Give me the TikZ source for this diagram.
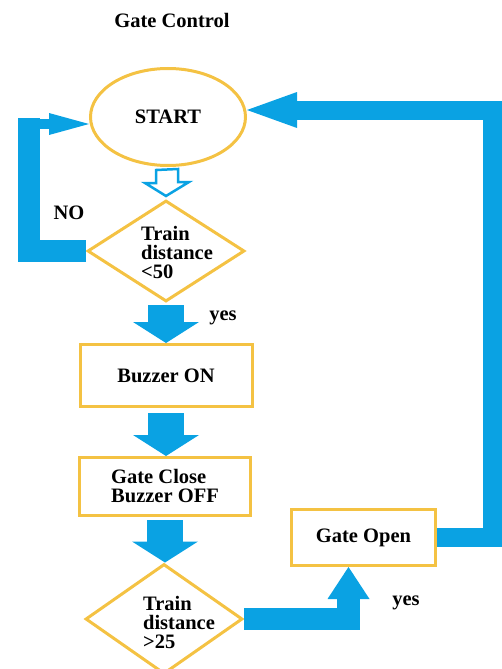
\documentclass[tikz,border=0pt]{standalone}
\usepackage{fontspec}
\setmainfont{LiberationSerif}[Extension=.ttf, UprightFont=*-Regular, BoldFont=*-Bold]
\usetikzlibrary{calc,arrows.meta,shapes.geometric}
\definecolor{flowblue}{HTML}{0AA2E3}
\definecolor{boxgold}{HTML}{F4C243}

\begin{document}
\begin{tikzpicture}[x=1pt, y=-1pt,
		every node/.style={font=\fontsize{20.5}{19}\selectfont\bfseries},
		startbox/.style={draw=boxgold, line width=3pt, ellipse, minimum width=155pt, minimum height=97pt, inner sep=0pt},
		decision/.style={draw=boxgold, line width=3pt, diamond, minimum width=157pt, inner sep=0pt},
		process/.style={draw=boxgold, line width=3pt, rectangle, align=left, inner sep=0pt},
		blockarrow/.style={draw=flowblue, line width=36pt, -{Triangle[width=66pt, length=21pt, line width=0pt]}},
		loopline/.style={draw=flowblue},
		hollowarrow/.style={draw=flowblue, line width=2.5pt, fill=white}]
		\useasboundingbox (0,0) rectangle (501,669);

		\coordinate (noturn)    at (28.5, 118);
		\coordinate (noback)    at (39,   124);
		\coordinate (rightturn) at (492,  110);

		\node (title) at (172, 20) {Gate Control};

		\node[startbox] (start) at (168, 117) {START};
		\node[decision, minimum height=101pt] (d1) at (166, 251) {};
		\node[align=left] (d1text) at ($(d1.center)+(11, 1)$) {Train\\distance\\<50};
		\node[process, minimum width=172pt, minimum height=62pt] (buzzon) at (166, 375.5) {Buzzer ON};
		\node[process, minimum width=171pt, minimum height=58pt] (gateclose) at (165, 486.5) {Gate Close\\Buzzer OFF};
		\node[decision, minimum height=110pt] (d2) at (164, 619) {};
		\node[align=left] (d2text) at ($(d2.center)+(15, 3)$) {Train\\distance\\>25};
		\node[process, minimum width=144pt, minimum height=56pt] (gateopen) at (363.5, 537.5) {Gate Open};

		\node (nolabel) at (69, 213) {NO};
		\node (yes1) at (223, 318) {yes};
		\node (yes2) at (406, 603) {yes};

		% start to first check
		\draw[hollowarrow] ($(start.south)+(-12, 3)$) -- ++(0, 13) -- ++(-11, 0) -- ($(d1.north)+(0, -3)$) -- ++(23, -14) -- ++(-11, 0) -- ++(0, -13) -- cycle;

		\draw[blockarrow, shorten <=2pt] (d1.south) -- (d1.south |- buzzon.north);
		\draw[blockarrow, shorten <=5pt] (buzzon.south) -- (buzzon.south |- gateclose.north);
		\draw[blockarrow, shorten <=3pt] (gateclose.south) -- (gateclose.south |- d2.north);

		% NO loop back to start
		\draw[loopline, line width=22pt] (d1.west) -| (noturn);
		\draw[loopline, line width=10pt, -{Triangle[width=22pt, length=40pt, line width=0pt]}] (noback) -- (start.west |- noback);

		% yes to gate open
		\draw[loopline, line width=22.5pt, -{Triangle[width=42pt, length=32pt, line width=0pt]}] (d2.east) -| ($(gateopen.south)+(-15, 0)$);

		% gate open back to start
		\draw[loopline, line width=19pt, -{Triangle[width=36pt, length=50pt, line width=0pt]}] (gateopen.east) -| (rightturn) -- ($(start.east)+(0, -7)$);
	\end{tikzpicture}
\end{document}
